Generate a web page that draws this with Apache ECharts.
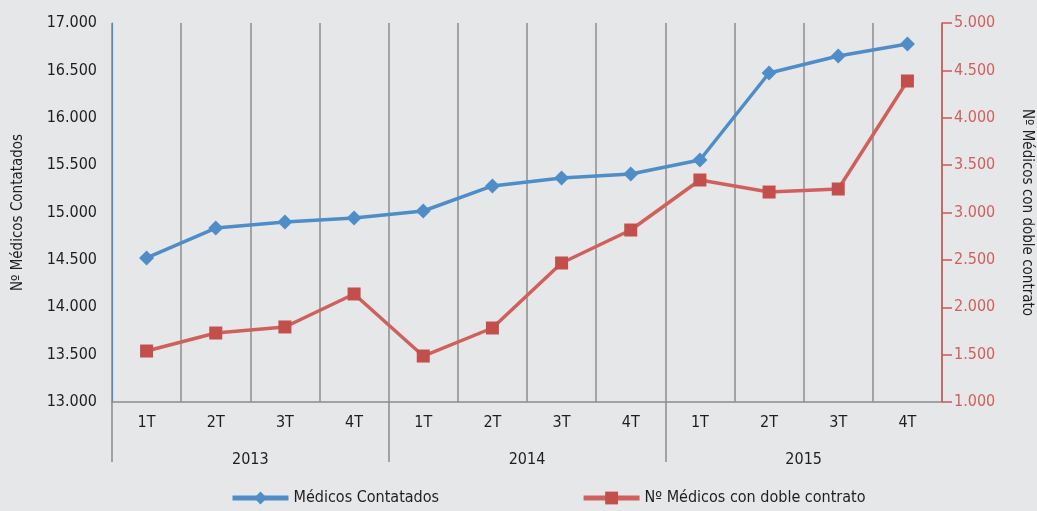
<!DOCTYPE html>
<html>
<head>
<meta charset="utf-8">
<script src="https://cdn.jsdelivr.net/npm/echarts@6/dist/echarts.min.js"></script>
<style>
  html, body { margin: 0; padding: 0; background: #e6e7e8; }
  #chart { width: 1037px; height: 511px; }
</style>
</head>
<body>
<div id="chart"></div>
<script>
const quarters = ['1T', '2T', '3T', '4T', '1T', '2T', '3T', '4T', '1T', '2T', '3T', '4T'];
const years = ['2013', '2014', '2015'];
const medicosContatados = [14520, 14836, 14900, 14942, 15016, 15280, 15364, 15406, 15554, 16472, 16652, 16778];
const dobleContrato = [1538, 1728, 1792, 2140, 1485, 1781, 2467, 2815, 3343, 3216, 3248, 4388];

const FONT = "'DejaVu Sans Condensed', 'Liberation Sans Narrow', sans-serif";
const BLUE = '#4f8dc9';
const RED = '#cd5855';
const fmt = v => String(v).replace(/\B(?=(\d{3})+(?!\d))/g, '.');

const chart = echarts.init(document.getElementById('chart'), null, { renderer: 'canvas' });

chart.setOption({
  backgroundColor: '#e6e7e8',
  animation: false,
  textStyle: { fontFamily: FONT },
  grid: { left: 112, right: 95, top: 23, bottom: 109, outerBoundsMode: 'none', containLabel: false },
  legend: {
    bottom: 0,
    left: 225,
    itemWidth: 56,
    itemHeight: 16,
    itemGap: 142,
    textStyle: { fontFamily: FONT, fontSize: 16, color: '#1e1e1e' },
    data: [
      { name: 'Médicos Contatados', lineStyle: { width: 5 } },
      { name: 'Nº Médicos con doble contrato', lineStyle: { width: 5 } }
    ]
  },
  xAxis: [
    {
      type: 'category',
      data: quarters,
      boundaryGap: true,
      axisLine: { show: true, lineStyle: { color: '#8c8c8c', width: 1.5 } },
      axisTick: { show: false },
      axisLabel: { interval: 0, margin: 13, fontFamily: FONT, fontSize: 16, color: '#1e1e1e' },
      splitLine: { show: true, interval: 0, lineStyle: { color: '#8c8c8c', width: 1.5 } }
    },
    {
      type: 'value',
      min: 0,
      max: 12,
      position: 'bottom',
      axisLine: { show: false },
      axisTick: { show: true, customValues: [0, 4, 8], length: 60, lineStyle: { color: '#8c8c8c', width: 1.5 } },
      axisLabel: {
        customValues: [2, 6, 10],
        margin: 50,
        fontFamily: FONT, fontSize: 16, color: '#1e1e1e',
        formatter: v => years[(v - 2) / 4]
      },
      splitLine: { show: false }
    }
  ],
  yAxis: [
    {
      type: 'value',
      min: 13000,
      max: 17000,
      interval: 500,
      name: 'Nº Médicos Contatados',
      nameLocation: 'middle',
      nameGap: 86,
      nameTextStyle: { fontFamily: FONT, fontSize: 15, color: '#1e1e1e' },
      axisLine: { show: true, lineStyle: { color: BLUE, width: 1.2 } },
      axisTick: { show: false },
      axisLabel: { margin: 15, fontFamily: FONT, fontSize: 16, color: '#1e1e1e', formatter: fmt },
      splitLine: { show: false }
    },
    {
      type: 'value',
      min: 1000,
      max: 5000,
      interval: 500,
      position: 'right',
      name: 'Nº Médicos con doble contrato',
      nameLocation: 'middle',
      nameRotate: -90,
      nameGap: 77,
      nameTextStyle: { fontFamily: FONT, fontSize: 15, color: '#1e1e1e' },
      axisLine: { show: true, lineStyle: { color: RED, width: 1.5 } },
      axisTick: { show: true, inside: false, length: 10, lineStyle: { color: RED, width: 1.5 } },
      axisLabel: { margin: 12, fontFamily: FONT, fontSize: 16, color: '#d0605d', formatter: fmt },
      splitLine: { show: false }
    }
  ],
  series: [
    {
      name: 'Médicos Contatados',
      type: 'line',
      xAxisIndex: 0,
      yAxisIndex: 0,
      data: medicosContatados,
      symbol: 'diamond',
      symbolSize: 15,
      lineStyle: { color: BLUE, width: 3.5 },
      itemStyle: { color: BLUE },
      z: 3
    },
    {
      name: 'Nº Médicos con doble contrato',
      type: 'line',
      xAxisIndex: 0,
      yAxisIndex: 1,
      data: dobleContrato,
      symbol: 'rect',
      symbolSize: 13,
      lineStyle: { color: '#d0605d', width: 3.5 },
      itemStyle: { color: '#c24f4c' },
      z: 4
    }
  ]
});
</script>
</body>
</html>
